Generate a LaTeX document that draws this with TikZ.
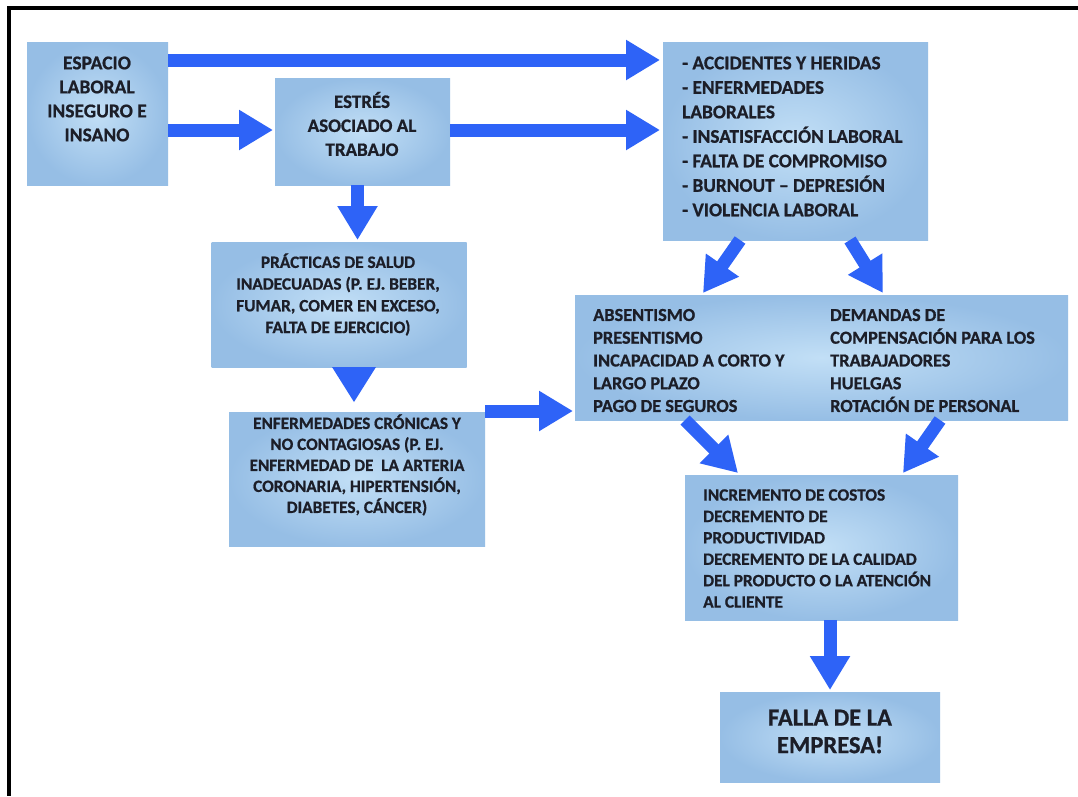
\documentclass[tikz,border=0pt]{standalone}
\usepackage{fontspec}
\setmainfont{Carlito}[BoldFeatures={FakeBold=0.8}]
\usetikzlibrary{arrows.meta}
\definecolor{arrowcol}{RGB}{46,99,247}
\definecolor{boxin}{RGB}{194,223,246}
\definecolor{boxout}{RGB}{150,190,229}
\definecolor{txtcol}{RGB}{28,30,40}
\tikzset{
  box/.style={rectangle, inner sep=0pt, outer sep=0pt, inner color=boxin, outer color=boxout},
  txt/.style={inner sep=0pt, text=txtcol, font=\bfseries},
  fat/.style={draw=arrowcol, line width=13pt, -{Triangle[width=38pt,length=34pt]}, arrowcol},
}
\newcommand{\fs}[2]{\fontsize{#1}{#2}\selectfont}
\begin{document}
\begin{tikzpicture}[x=1pt,y=-1pt]
\useasboundingbox (0,0) rectangle (1078,796);
\fill[white] (0,0) rectangle (1078,796);
% frame
\draw[line width=3.5pt] (1078,8) -- (9,8) -- (9,796);

% boxes
\node[box, minimum width=141, minimum height=143] (A) at (97.5,113.5) {};
\node[box, minimum width=175, minimum height=107] (B) at (362.5,131.5) {};
\node[box, minimum width=265, minimum height=198] (C) at (795.5,141) {};
\node[box, minimum width=255, minimum height=125] (D) at (339,304.5) {};
\node[box, minimum width=256, minimum height=134] (E) at (357,479) {};
\node[box, minimum width=493, minimum height=125] (F) at (821.5,357.5) {};
\node[box, minimum width=273, minimum height=145] (G) at (821.5,547.5) {};
\node[box, minimum width=220, minimum height=90] (H) at (830,737) {};

% texts
\node[txt, align=center, font=\bfseries\fs{19.5}{24}] (tA) at (97,99)
  {ESPACIO\\LABORAL\\INSEGURO E\\INSANO};
\node[txt, align=center, font=\bfseries\fs{19}{24}] (tB) at (362,124)
  {ESTRÉS\\ASOCIADO AL\\TRABAJO};
\node[txt, align=left, anchor=west, font=\bfseries\fs{19.3}{24.5}] (tC) at (682,136.5)
  {- ACCIDENTES Y HERIDAS\\- ENFERMEDADES\\LABORALES\\- INSATISFACCIÓN LABORAL\\- FALTA DE COMPROMISO\\- BURNOUT – DEPRESIÓN\\- VIOLENCIA LABORAL};
\node[txt, align=center, font=\bfseries\fs{17.3}{21.7}] (tD) at (338,294.5)
  {PRÁCTICAS DE SALUD\\INADECUADAS (P. EJ. BEBER,\\FUMAR, COMER EN EXCESO,\\FALTA DE EJERCICIO)};
\node[txt, align=center, font=\bfseries\fs{17.2}{21}] (tE) at (357,465)
  {ENFERMEDADES CRÓNICAS Y\\NO CONTAGIOSAS (P. EJ.\\ENFERMEDAD DE\ \ LA ARTERIA\\CORONARIA, HIPERTENSIÓN,\\DIABETES, CÁNCER)};
\node[txt, align=left, anchor=west, font=\bfseries\fs{18.3}{22.75}] (tF1) at (593,360.5)
  {ABSENTISMO\\PRESENTISMO\\INCAPACIDAD A CORTO Y\\LARGO PLAZO\\PAGO DE SEGUROS};
\node[txt, align=left, anchor=west, font=\bfseries\fs{18.3}{22.75}] (tF2) at (830,360.5)
  {DEMANDAS DE\\COMPENSACIÓN PARA LOS\\TRABAJADORES\\HUELGAS\\ROTACIÓN DE PERSONAL};
\node[txt, align=left, anchor=west, font=\bfseries\fs{17.3}{21.4}] (tG) at (703,548.5)
  {INCREMENTO DE COSTOS\\DECREMENTO DE\\PRODUCTIVIDAD\\DECREMENTO DE LA CALIDAD\\DEL PRODUCTO O LA ATENCIÓN\\AL CLIENTE};
\node[txt, align=center, font=\bfseries\fs{24.5}{27.5}] (tH) at (830,731.5)
  {FALLA DE LA\\EMPRESA!};

% arrows
\draw[fat] (A.east |- 0,60) -- ([xshift=-3]C.west |- 0,60);
\draw[fat] (A.east |- 0,130) -- ([xshift=-2]B.west |- 0,130);
\draw[fat] (B.east |- 0,130) -- ([xshift=-3]C.west |- 0,130);
\draw[fat] (B.south -| 357.5,0) -- ([yshift=2]D.north -| 357.5,0);
\fill[arrowcol] (D.south -| 332,0) -- (D.south -| 376,0) -- ([yshift=10]E.north -| 354,0) -- cycle;
\draw[fat] (E.east |- 0,411) -- ([xshift=-2]F.west |- 0,411);
\draw[fat] (C.south -| 740,0) -- ([yshift=2]F.north -| 703,0);
\draw[fat] (C.south -| 850,0) -- ([yshift=2]F.north -| 883,0);
\draw[fat] (F.south -| 685,0) -- ([yshift=2]G.north -| 738,0);
\draw[fat] (F.south -| 940,0) -- ([yshift=2]G.north -| 903,0);
\draw[fat] (G.south -| 830,0) -- ([yshift=2]H.north -| 830,0);
\end{tikzpicture}
\end{document}
